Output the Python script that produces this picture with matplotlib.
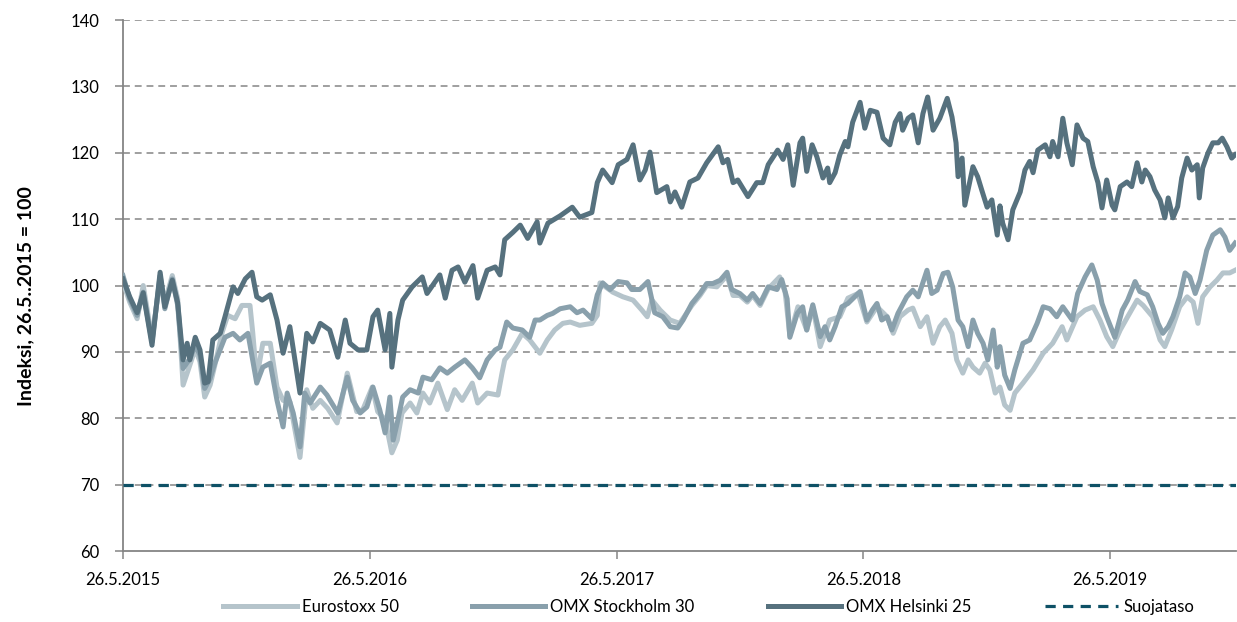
import matplotlib
matplotlib.use("Agg")
import matplotlib.pyplot as plt
import pandas as pd

plt.rcParams['font.family'] = ['Lato', 'DejaVu Sans']

start = pd.Timestamp('2015-05-26')
end_days = 1647

# Days since 26.5.2015 and index values (26.5.2015 = 100)
h_days = [0, 10, 21, 30, 43, 55, 62, 73, 81, 89, 95, 99, 107, 114, 121, 126, 133, 144, 151, 163,
          170, 181, 191, 198, 206, 218, 228, 237, 247, 262, 272, 281, 292, 306, 318, 329, 336, 348,
          361, 370, 377, 388, 395, 398, 407, 414, 428, 443, 450, 469, 477, 487, 496, 506, 518, 525,
          539, 551, 558, 565, 577, 588, 599, 613, 617, 629, 647, 665, 676, 694, 702, 710, 724, 733,
          746, 755, 765, 773, 780, 790, 805, 810, 817, 827, 839, 851, 864, 881, 888, 895, 903, 910,
          925, 938, 947, 955, 969, 977, 984, 992, 1002, 1006, 1012, 1020, 1027, 1036, 1043, 1046,
          1054, 1061, 1069, 1073, 1080, 1091, 1098, 1106, 1116, 1125, 1135, 1143, 1150, 1154, 1162,
          1169, 1177, 1184, 1191, 1199, 1209, 1220, 1227, 1233, 1236, 1242, 1246, 1258, 1265, 1271,
          1279, 1286, 1294, 1298, 1302, 1310, 1317, 1328, 1335, 1342, 1347, 1354, 1365, 1372, 1376,
          1384, 1391, 1397, 1405, 1412, 1421, 1428, 1436, 1443, 1449, 1456, 1464, 1468, 1476, 1486,
          1493, 1501, 1508, 1513, 1520, 1527, 1535, 1542, 1547, 1554, 1561, 1567, 1575, 1582, 1590,
          1593, 1598, 1606, 1613, 1621, 1627, 1634, 1641, 1646]
h_vals = [101, 98.3, 95.9, 98.9, 91, 102, 96.8, 100.8, 97.4, 88.8, 91.3, 88.8, 92.2, 90.3, 85.3,
          85.5, 91.8, 92.8, 95.3, 99.8, 98.8, 101, 102, 98.3, 97.8, 98.6, 94.8, 89.8, 93.8, 83.8,
          92.8, 91.5, 94.3, 93.3, 89.2, 94.8, 91.3, 90.3, 90.3, 95.3, 96.3, 90.3, 95.8, 87.7, 94.8,
          97.8, 99.8, 101.3, 98.8, 101.6, 98.1, 102.3, 102.8, 100.5, 103, 98.1, 102.3, 102.8, 101.6,
          106.9, 108, 109.1, 107.1, 109.6, 106.4, 109.4, 110.5, 111.8, 110.3, 111, 115.5, 117.4,
          115.5, 118.2, 119, 121.2, 115.9, 117.4, 120.1, 114, 114.9, 112.6, 114.1, 111.8, 115.6,
          116.2, 118.5, 120.9, 118.5, 119, 115.5, 115.9, 113.4, 115.5, 115.5, 118.2, 120.4, 119,
          121.2, 115.1, 121.5, 122.2, 117.2, 121.2, 119.4, 116.2, 117.7, 115.5, 117, 119.7, 121.7,
          120.9, 124.6, 127.6, 123.7, 126.4, 126.1, 122.2, 121.2, 124.6, 125.9, 123.4, 125.2, 125.7,
          121.5, 125.9, 128.4, 123.4, 125.2, 128.2, 125.4, 121.5, 116.4, 119.2, 112.1, 117.9, 116.4,
          114.4, 111.8, 112.9, 107.6, 112, 109.4, 106.9, 111.4, 114.1, 117.4, 118.7, 117, 120.4,
          121.2, 119.4, 121.7, 119.4, 125.2, 121.5, 118.2, 124.2, 122.2, 121.7, 117.9, 115.5, 111.7,
          115.9, 112.1, 111.4, 114.9, 115.6, 114.9, 118.5, 115.6, 117.4, 116.4, 114.4, 112.9, 110.2,
          113.2, 110.2, 111.9, 116.2, 119.2, 117.4, 118.2, 113.2, 117.7, 120, 121.5, 121.5, 122.2,
          120.9, 119.2, 119.7]

s_days = [0, 10, 21, 30, 43, 55, 62, 73, 81, 89, 99, 107, 114, 121, 129, 136, 151, 163, 173, 185,
          198, 207, 218, 228, 237, 243, 252, 262, 269, 277, 292, 302, 309, 318, 332, 340, 351, 361,
          370, 380, 388, 395, 400, 407, 414, 425, 437, 444, 457, 469, 480, 491, 506, 517, 528, 539,
          551, 558, 568, 577, 591, 602, 610, 617, 628, 636, 647, 662, 672, 681, 694, 702, 710, 721,
          733, 746, 753, 765, 777, 787, 799, 810, 821, 829, 842, 854, 864, 873, 884, 894, 901, 913,
          924, 932, 943, 955, 968, 975, 983, 987, 998, 1006, 1012, 1021, 1032, 1039, 1046, 1054,
          1064, 1073, 1083, 1091, 1101, 1109, 1116, 1123, 1131, 1138, 1147, 1160, 1169, 1177, 1190,
          1197, 1205, 1214, 1221, 1228, 1236, 1243, 1251, 1258, 1265, 1273, 1280, 1288, 1294, 1298,
          1305, 1313, 1320, 1332, 1342, 1353, 1362, 1372, 1382, 1391, 1405, 1413, 1424, 1434, 1442,
          1449, 1456, 1468, 1479, 1487, 1498, 1505, 1516, 1524, 1532, 1539, 1547, 1554, 1564, 1572,
          1579, 1587, 1594, 1604, 1613, 1624, 1631, 1638, 1646]
s_vals = [101.5, 98, 95.5, 99, 91.5, 101.5, 96.5, 101, 97, 87.5, 89, 91, 89.5, 84.5, 86, 88.3, 92.2,
          92.8, 91.8, 92.8, 85.3, 87.7, 88.3, 82.7, 78.7, 83.8, 80.8, 75.7, 83.8, 82.3, 84.7, 83.5,
          82.3, 80.8, 86.2, 82.7, 80.8, 81.7, 84.7, 81.3, 77.8, 83.2, 76.7, 79.8, 83.2, 84.3, 83.8,
          86.2, 85.8, 87.6, 86.8, 87.7, 88.8, 87.6, 86.1, 88.8, 90.3, 90.7, 94.5, 93.6, 93.3, 92.2,
          94.8, 94.8, 95.5, 95.8, 96.5, 96.8, 95.9, 96.3, 95, 98.6, 100.4, 99.4, 100.6, 100.4, 99.4,
          99.4, 100.6, 95.9, 95.3, 93.8, 93.6, 94.8, 97.3, 98.8, 100.3, 100.3, 100.8, 102, 99.4,
          98.8, 97.8, 98.8, 97.3, 99.8, 99.4, 100.9, 98, 92.2, 95.8, 96.8, 93.3, 97.1, 92.3, 93.8,
          91.8, 93.8, 96.8, 97.3, 98.3, 99.1, 94.8, 96.3, 97.3, 94.8, 95.3, 93.3, 95.8, 98.3, 99.3,
          98.3, 102.3, 98.8, 99.3, 101.8, 102, 99.8, 94.8, 93.8, 90.8, 94.8, 92.8, 91.3, 88.8, 93.3,
          87.7, 90.8, 86.5, 84.5, 87.3, 91.3, 91.8, 94.3, 96.8, 96.5, 95.3, 96.8, 94.8, 98.8, 101.3,
          103.1, 100.8, 97.3, 95.3, 92.2, 96.3, 97.8, 100.6, 99.1, 98.6, 96.8, 94.3, 92.8, 93.8,
          95.3, 98.3, 101.9, 101.3, 98.8, 100.8, 105.3, 107.6, 108.4, 107.3, 105.3, 106.4]

e_days = [0, 10, 21, 30, 43, 55, 62, 73, 81, 89, 99, 107, 114, 121, 129, 136, 147, 155, 166, 176,
          188, 192, 198, 207, 218, 228, 237, 247, 262, 272, 281, 292, 303, 317, 332, 346, 355, 369,
          377, 388, 398, 406, 413, 425, 435, 444, 454, 466, 480, 491, 502, 517, 525, 539, 555, 561,
          565, 577, 591, 602, 617, 628, 639, 651, 662, 676, 694, 702, 706, 725, 740, 755, 768, 776,
          783, 795, 810, 824, 842, 854, 864, 879, 894, 903, 913, 924, 932, 943, 955, 972, 980, 987,
          999, 1012, 1021, 1032, 1046, 1061, 1073, 1088, 1101, 1116, 1131, 1140, 1150, 1162, 1169,
          1180, 1190, 1199, 1209, 1217, 1227, 1234, 1243, 1251, 1258, 1268, 1276, 1283, 1291, 1298,
          1305, 1313, 1320, 1332, 1347, 1362, 1376, 1390, 1397, 1412, 1424, 1436, 1446, 1456, 1465,
          1476, 1487, 1501, 1510, 1524, 1535, 1542, 1552, 1564, 1575, 1584, 1591, 1598, 1609, 1619,
          1628, 1638, 1646]
e_vals = [100.5, 97.5, 95, 100, 92, 101, 97.5, 101.5, 98, 85, 88, 90.5, 88.5, 83.2, 85, 88, 93, 95.5,
          95, 97, 97, 93, 86, 91.3, 91.3, 84.7, 82.7, 82.5, 74.1, 84.3, 81.5, 82.7, 81.5, 79.3, 86.8,
          81, 81.3, 84.7, 81, 79.8, 74.8, 76.7, 80.8, 82.3, 80.8, 83.8, 82.3, 85.3, 81.3, 84.3, 82.7,
          85.3, 82.3, 83.8, 83.5, 86.8, 88.8, 90.3, 92.8, 91.8, 89.8, 91.8, 93.3, 94.3, 94.5, 94,
          94.3, 95.5, 100.4, 99, 98.3, 97.8, 96.3, 95.3, 97.8, 96.3, 94.8, 94.3, 97, 98.5, 100, 99.8,
          101.5, 98.5, 98.5, 97.5, 98.5, 97, 99.5, 101.3, 99, 92.5, 96.8, 93.3, 96.8, 90.8, 94.8,
          95.3, 98.1, 98.8, 94.5, 96.8, 95.3, 92.8, 95.3, 96.3, 96.6, 93.8, 95.3, 91.3, 93.8, 94.8,
          92.8, 88.8, 86.8, 88.8, 87.7, 86.8, 88.3, 87.3, 83.8, 84.7, 82, 81.2, 83.8, 85.3, 87.3,
          89.8, 91.3, 93.8, 91.8, 95.3, 96.3, 96.8, 94.8, 92.3, 90.8, 93.3, 95.3, 97.8, 97, 95.3,
          91.8, 90.8, 93.3, 96.8, 98.3, 97.5, 94.3, 98.3, 99.8, 100.8, 101.9, 101.9, 102.3]

suojataso = 70

series_names = ['Eurostoxx 50', 'OMX Stockholm 30', 'OMX Helsinki 25', 'Suojataso']
tick_labels = ['26.5.2015', '26.5.2016', '26.5.2017', '26.5.2018', '26.5.2019']
y_ticks = [60, 70, 80, 90, 100, 110, 120, 130, 140]

col_e = '#B5C4CB'
col_s = '#89A0AC'
col_h = '#56717E'
col_p = '#0E5166'
grey = '#858585'


def to_dates(days):
    return start + pd.to_timedelta(days, unit='D')


fig = plt.figure(figsize=(12.37, 6.22), dpi=100)
ax = fig.add_axes([0.0994, 0.1141, 0.8996, 0.8537])

for yv in y_ticks[1:]:
    ax.axhline(yv, color=grey, lw=1.1, dashes=(4.5, 3.2), zorder=1)

lw = 3.6
ax.plot(to_dates(e_days), e_vals, color=col_e, lw=lw, solid_joinstyle='round',
        label=series_names[0], zorder=3)
ax.plot(to_dates(s_days), s_vals, color=col_s, lw=lw, solid_joinstyle='round',
        label=series_names[1], zorder=4)
ax.plot(to_dates(h_days), h_vals, color=col_h, lw=lw, solid_joinstyle='round',
        label=series_names[2], zorder=5)
x_end = start + pd.Timedelta(days=end_days)
ax.plot([start, x_end], [suojataso, suojataso], color=col_p, lw=2.3,
        dashes=(3.2, 2.3), label=series_names[3], zorder=6)

ax.set_xlim(start, x_end)
ax.set_ylim(60, 140)
ax.set_yticks(y_ticks)
ax.set_yticklabels([str(v) for v in y_ticks], fontsize=12)
ax.set_xticks(pd.to_datetime(tick_labels, format='%d.%m.%Y'))
ax.set_xticklabels(tick_labels, fontsize=12)

for side in ['top', 'right']:
    ax.spines[side].set_visible(False)
for side in ['left', 'bottom']:
    ax.spines[side].set_color(grey)
    ax.spines[side].set_linewidth(1.3)
ax.tick_params(axis='both', colors=grey, labelcolor='black', length=6, width=1.1)
ax.tick_params(axis='x', pad=9)
ax.tick_params(axis='y', pad=11)

ax.set_ylabel('Indeksi, 26.5..2015 = 100', fontsize=14, fontweight='bold')
ax.yaxis.set_label_coords(-0.08, 0.48)

leg = fig.legend(loc='lower center', bbox_to_anchor=(0.573, -0.013), ncol=4, frameon=False,
                 fontsize=12, handlelength=4.4, handletextpad=0.3, columnspacing=4.4)

fig.savefig('out.png', dpi=100)
